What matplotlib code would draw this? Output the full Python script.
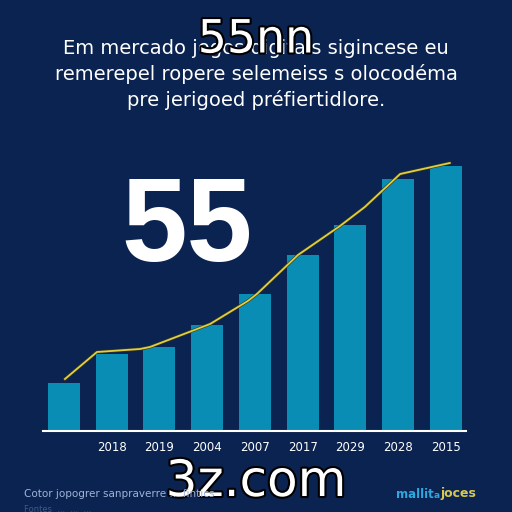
import matplotlib.pyplot as plt
import matplotlib.patheffects as pe

# datos de las barras
bar_labels = ['', '2018', '2019', '2004', '2007', '2017', '2029', '2028', '2015']
bar_values = [48, 77, 84, 106, 137, 176, 206, 252, 265]

# linea amarilla (posiciones en indice de barra)
line_x = [0.02, 0.69, 1.59, 1.8, 3.06, 3.85, 4.04, 4.9, 5.78, 6.3, 7.04, 8.08]
line_y = [52, 79, 82, 84, 107, 130, 137, 176, 205, 224, 257, 268]

bg = '#0b2350'
fig = plt.figure(figsize=(5.12, 5.12), dpi=100, facecolor=bg)
ax = fig.add_axes([43/512, 1 - 431/512, 423/512, 300/512])
ax.set_facecolor(bg)

x = range(len(bar_values))
ax.bar(x, bar_values, width=0.67, color='#0a8db5')
ax.plot(line_x, line_y, color='#e0d040', lw=1.3,
        path_effects=[pe.Stroke(linewidth=2.2, foreground='#3a3a20'), pe.Normal()])

ax.set_xlim(-0.44, 8.42)
ax.set_ylim(0, 300)
for s in ['top', 'right', 'left']:
    ax.spines[s].set_visible(False)
ax.spines['bottom'].set_color('white')
ax.spines['bottom'].set_linewidth(1.5)
ax.set_yticks([])
ax.set_xticks(list(x))
ax.set_xticklabels(bar_labels, color='white', fontsize=8.5)
ax.tick_params(axis='x', length=0, pad=7)

# textos
for i, t in enumerate(['Em mercado jogos digitais sigincese eu',
                       'remerepel ropere selemeiss s olocodéma',
                       'pre jerigoed préfiertidlore.']):
    fig.text(0.5, 1 - (48 + i * 26) / 512, t, color='white', fontsize=14,
             ha='center', va='center')

outline = [pe.Stroke(linewidth=3, foreground='black'), pe.Normal()]
fig.text(0.5, 1 - 40/512, '55nn', color='white', fontsize=33, ha='center',
         va='center', path_effects=outline)
fig.text(187/512, 1 - 230/512, '55', color='white', fontsize=85,
         fontweight='bold', family='Liberation Sans', ha='center', va='center')
fig.text(0.5, 1 - 482/512, '3z.com', color='white', fontsize=36, ha='center',
         va='center', path_effects=outline)

fig.text(24/512, 1 - 494/512, 'Cotor jopogrer sanpraverre ... fintics',
         color='#9fb4d8', fontsize=7.5, ha='left', va='center')
fig.text(24/512, 1 - 509/512, 'Fontes  ...  ...  ...', color='#3c5a8a',
         fontsize=6, ha='left', va='center')
fig.text(434/512, 1 - 494/512, 'mallit', color='#2fa8e0', fontsize=8.5,
         fontweight='bold', ha='right', va='center')
fig.text(437/512, 1 - 496/512, 'a', color='#2fa8e0', fontsize=6.5,
         fontweight='bold', ha='center', va='center')
fig.text(440/512, 1 - 494/512, 'joces', color='#d8c850', fontsize=9,
         fontweight='bold', ha='left', va='center')

fig.savefig('out.png', dpi=100, facecolor=bg)
